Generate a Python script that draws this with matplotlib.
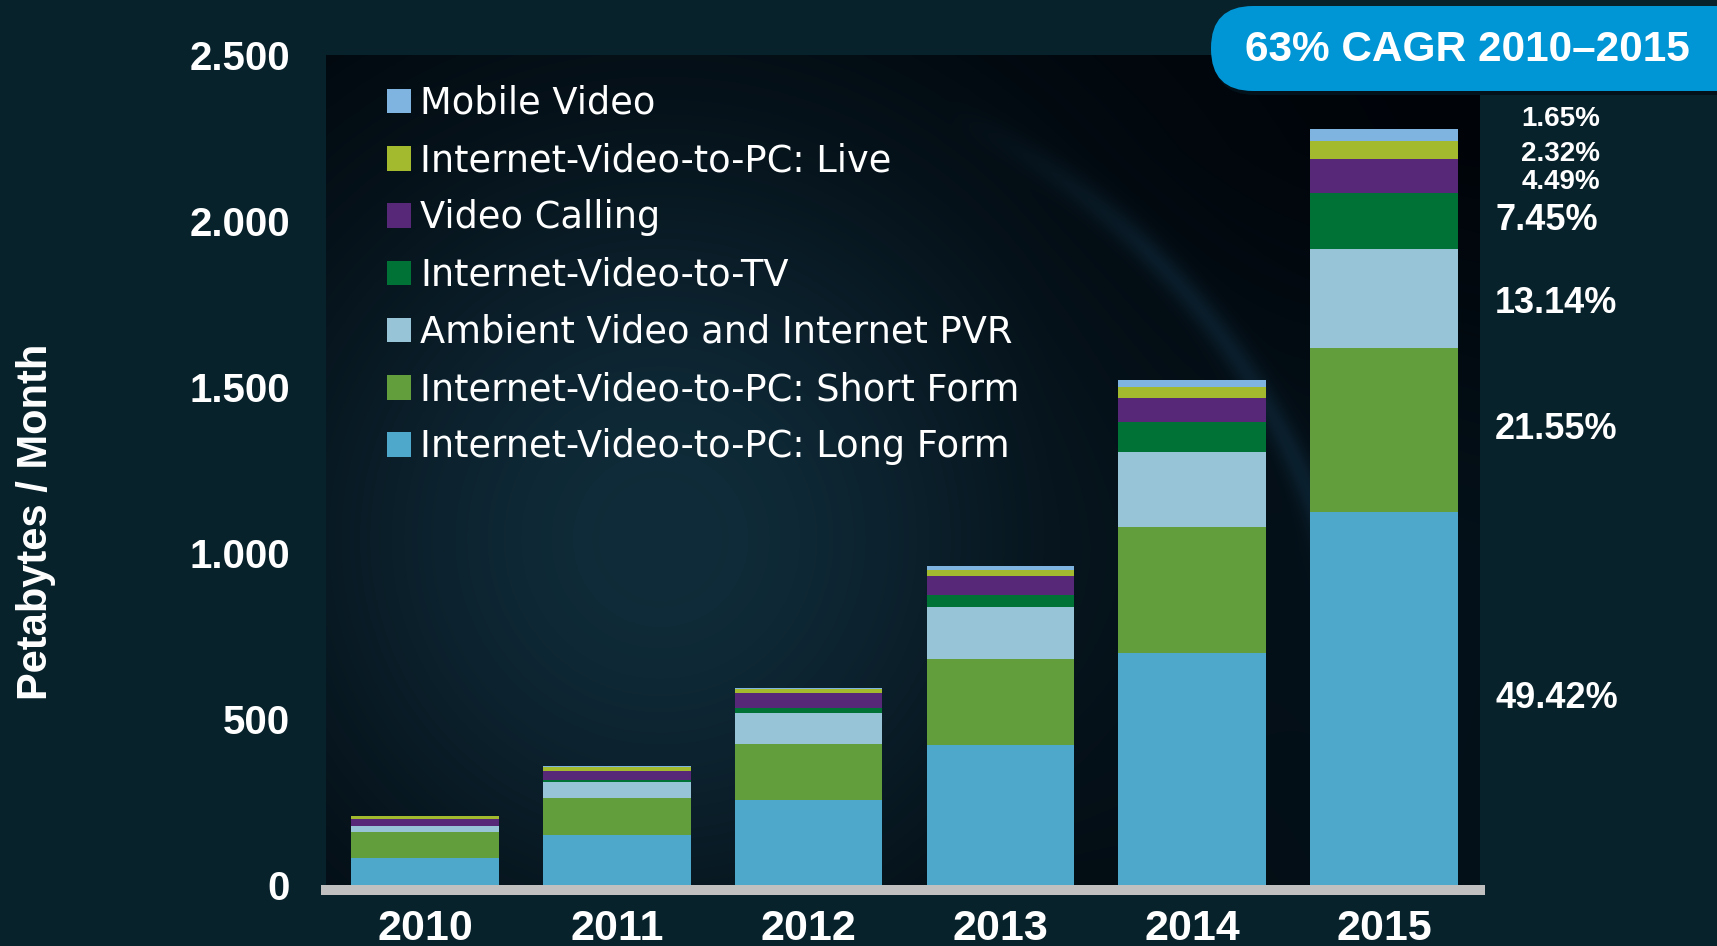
import numpy as np
import matplotlib.pyplot as plt
from matplotlib.patches import FancyBboxPatch, Patch

years = ['2010', '2011', '2012', '2013', '2014', '2015']
long_form = [82, 151, 256, 422, 699, 1125]
short_form = [78, 111, 169, 259, 379, 491]
ambient = [18, 48, 93, 156, 226, 299]
video_tv = [1, 6, 15, 36, 91, 170]
calling = [21, 27, 45, 58, 72, 102]
live = [7, 12, 12, 17, 33, 53]
mobile = [2, 2, 3, 13, 21, 38]
share_2015 = [49.42, 21.55, 13.14, 7.45, 4.49, 2.32, 1.65]

names = ['Internet-Video-to-PC: Long Form', 'Internet-Video-to-PC: Short Form',
         'Ambient Video and Internet PVR', 'Internet-Video-to-TV', 'Video Calling',
         'Internet-Video-to-PC: Live', 'Mobile Video']
series = [long_form, short_form, ambient, video_tv, calling, live, mobile]
colors = ['#4ea8cc', '#629e3c', '#97c4d6', '#007236', '#582878', '#a4ba2e', '#80b4e0']

W, H = 1717, 946
bg = '#08222c'
fig = plt.figure(figsize=(W / 100, H / 100), dpi=100, facecolor=bg)
# axes box in pixels: x 326..1480, y 55..885 from top
ax = fig.add_axes([326 / W, 1 - 885 / H, 1154 / W, 830 / H])

# dark backdrop with a soft glow and a faint globe edge
gx = np.linspace(326, 1480, 400)
gy = np.linspace(55, 885, 290)
X, Y = np.meshgrid(gx, gy)
d1 = np.hypot(X - 660, Y - 540)
glow = np.exp(-(d1 / 430) ** 2)
d2 = np.hypot(X - 650, Y - 760)
ring = np.exp(-((d2 - 712) / 14) ** 2) * np.clip((X - 950) / 200, 0, 1) * (Y < 620)
right = np.clip((X - 1050) / 350, 0, 1) * np.clip((Y - 150) / 400, 0, 1)
base = np.array([0, 4, 9]) / 255
glow_c = np.array([16, 44, 58]) / 255
img = base + glow[..., None] * (glow_c - base) + 0.45 * right[..., None] * (np.array([8, 30, 42]) / 255 - base)
img = img + ring[..., None] * np.array([14, 34, 46]) / 255 * 0.5
img = np.clip(img, 0, 1)
ax.imshow(img, extent=(0, 1, 0, 1), transform=ax.transAxes, aspect='auto', zorder=0, interpolation='bilinear')

x = np.arange(len(years))
bottom = np.zeros(len(years))
for vals, name, c in zip(series, names, colors):
    ax.bar(x, vals, width=0.77, bottom=bottom, color=c, label=name, zorder=2, linewidth=0)
    bottom += np.array(vals)

ax.set_xlim(-0.516, 5.5)
ax.set_ylim(0, 2500)
ax.set_yticks([0, 500, 1000, 1500, 2000, 2500])
ax.set_yticklabels(['0', '500', '1.000', '1.500', '2.000', '2.500'])
ax.set_xticks(x)
ax.set_xticklabels(years)
for s in ['top', 'right', 'left']:
    ax.spines[s].set_visible(False)
ax.spines['bottom'].set_color('#c0c0c0')
ax.spines['bottom'].set_linewidth(7.2)
ax.spines['bottom'].set_position(('outward', 3.6))
ax.spines['bottom'].set_zorder(3)
ax.tick_params(axis='both', length=0, colors='white')
ax.tick_params(axis='y', pad=26)
ax.tick_params(axis='x', pad=14)
for t in ax.get_yticklabels():
    t.set_fontfamily('Liberation Sans')
    t.set_fontweight('bold')
    t.set_fontsize(29)
for t in ax.get_xticklabels():
    t.set_fontfamily('Liberation Sans')
    t.set_fontweight('bold')
    t.set_fontsize(31)

fig.text(36 / W, 1 - 522 / H, 'Petabytes / Month', rotation=90, ha='center', va='center',
         color='white', fontsize=30, fontweight='bold', family='Liberation Sans')

handles = [Patch(facecolor=c, edgecolor='none') for c in colors][::-1]
leg = ax.legend(handles, names[::-1], loc='upper left', bbox_to_anchor=(61 / 1154, 1 - 30 / 830),
                frameon=False, borderpad=0, borderaxespad=0, handlelength=0.65, handleheight=0.65,
                handletextpad=0.25, labelspacing=0.55, prop={'family': 'DejaVu Sans', 'size': 26.5})
for t in leg.get_texts():
    t.set_color('white')

# share labels for 2015
tops = np.cumsum([v[-1] for v in series])
mids = tops - np.array([v[-1] for v in series]) / 2
offsets = [0, 0, 0, 0, -4.3, -2.9, 11.5]
for i, (m, p) in enumerate(zip(mids, share_2015)):
    if i < 4:
        ax.annotate(f'{p:.2f}%', xy=(1.013, m), xycoords=ax.get_yaxis_transform(), ha='left', va='center',
                    color='white', fontsize=26, fontweight='bold', family='Liberation Sans',
                    xytext=(0, offsets[i] - (3 if i == 2 else 0)), textcoords='offset points',
                    annotation_clip=False)
    else:
        ax.annotate(f'{p:.2f}%', xy=(1.104, m), xycoords=ax.get_yaxis_transform(), ha='right', va='center',
                    color='white', fontsize=20, fontweight='bold', family='Liberation Sans',
                    xytext=(0, offsets[i]), textcoords='offset points', annotation_clip=False)

# CAGR badge
shadow = FancyBboxPatch((1213, H - 95), 560, 85, boxstyle='round,pad=0,rounding_size=42',
                        transform=None, facecolor='#03121a', edgecolor='none', zorder=4)
pill = FancyBboxPatch((1211, H - 91), 560, 85, boxstyle='round,pad=0,rounding_size=42',
                      transform=None, facecolor='#0096d6', edgecolor='none', zorder=5)
fig.patches.extend([shadow, pill])
fig.text(1467 / W, 1 - 50 / H, '63% CAGR 2010\u20132015', ha='center', va='center', color='white',
         fontsize=30.5, fontweight='bold', family='Liberation Sans', zorder=6)

fig.savefig('out.png', dpi=100, facecolor=bg)
